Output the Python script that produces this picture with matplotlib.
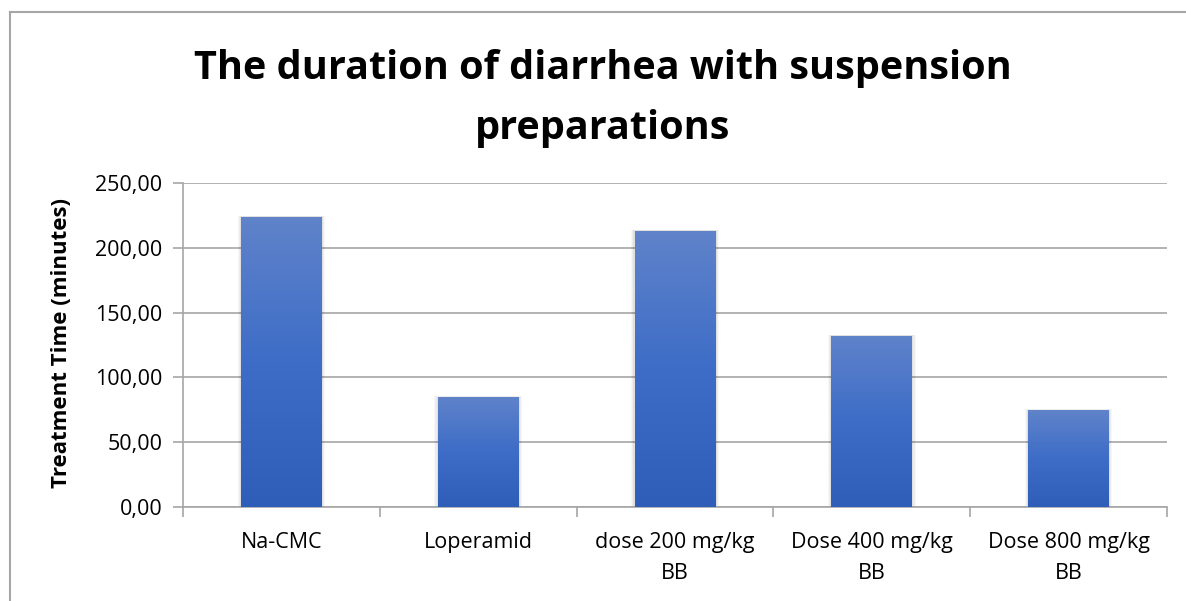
import numpy as np
import matplotlib
matplotlib.use('Agg')
import matplotlib.pyplot as plt
from matplotlib.patches import Rectangle
from matplotlib.lines import Line2D
from matplotlib.colors import LinearSegmentedColormap

plt.rcParams['font.family'] = ['Open Sans', 'DejaVu Sans']

# dados do gráfico
categorias = ['Na-CMC', 'Loperamid', 'dose 200 mg/kg\nBB', 'Dose 400 mg/kg\nBB', 'Dose 800 mg/kg\nBB']
tempos = [223.8, 84.9, 213.0, 132.0, 74.8]
ticks_y = [0, 50, 100, 150, 200, 250]
rotulos_y = ['0,00', '50,00', '100,00', '150,00', '200,00', '250,00']

W, H = 1186, 601
fig = plt.figure(figsize=(W / 100, H / 100), dpi=100)

# borda do gráfico (só esquerda e topo aparecem)
cinza = '#A6A6A6'
fig.add_artist(Line2D([10 / W, 10 / W], [0, 1 - 12 / H], transform=fig.transFigure, color=cinza, lw=1.5))
fig.add_artist(Line2D([10 / W, 1.01], [1 - 12 / H, 1 - 12 / H], transform=fig.transFigure, color=cinza, lw=1.5))

ax = fig.add_axes([183 / W, (H - 507) / H, 984 / W, 324 / H])

gradiente = LinearSegmentedColormap.from_list('azul', ['#2E5EB7', '#3D6DC7', '#6083CA'])
largura = 0.41
for i, v in enumerate(tempos):
    # sombra leve
    for k, a in enumerate([0.05, 0.04, 0.03]):
        d = (k + 1) * 0.006
        ax.add_patch(Rectangle((i - largura / 2 - d, 0), largura + 2 * d, v + d * 60,
                               facecolor='black', alpha=a, edgecolor='none', zorder=2))
    barra = ax.bar(i, v, width=largura, color='none', zorder=3)[0]
    img = ax.imshow(np.linspace(0, 1, 256).reshape(-1, 1), cmap=gradiente, aspect='auto',
                    extent=[i - largura / 2, i + largura / 2, 0, v], origin='lower', zorder=3)
    img.set_clip_path(barra)

ax.set_xlim(-0.5, len(categorias) - 0.5)
ax.set_ylim(0, 250)

ax.set_yticks(ticks_y)
ax.set_yticklabels(rotulos_y, fontsize=15.5)
ax.yaxis.grid(True, color=cinza, linewidth=1.2)
ax.set_axisbelow(True)

ax.set_xticks(np.arange(len(categorias)))
ax.set_xticklabels(categorias, fontsize=15.5, linespacing=1.65)
ax.set_xticks(np.arange(len(categorias) + 1) - 0.5, minor=True)
ax.tick_params(axis='x', which='major', length=0, pad=18)
ax.tick_params(axis='x', which='minor', length=7, color=cinza, width=1.2)
ax.tick_params(axis='y', length=7, color=cinza, width=1.2, pad=8)

for lado in ['top', 'right']:
    ax.spines[lado].set_visible(False)
for lado in ['left', 'bottom']:
    ax.spines[lado].set_color(cinza)
    ax.spines[lado].set_linewidth(1.2)

fig.text(62 / W, 1 - 343 / H, 'Treatment Time (minutes)', rotation=90, fontsize=16,
         fontweight='bold', ha='center', va='center')
fig.text(603 / W, 1 - 99 / H, 'The duration of diarrhea with suspension\npreparations',
         fontsize=28.5, fontweight='bold', ha='center', va='center', linespacing=1.7)

fig.savefig('out.png', dpi=100)
